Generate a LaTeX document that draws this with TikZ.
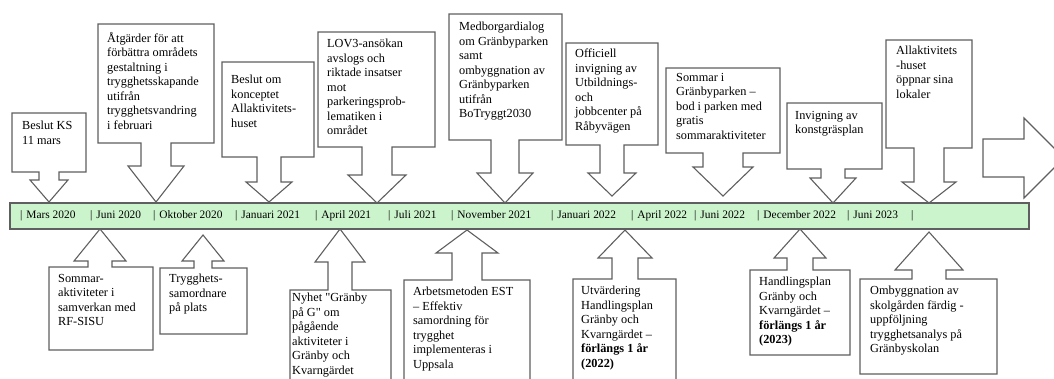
\documentclass[tikz,border=0pt]{standalone}
\usepackage{fontspec}
\newfontfamily\tlfont{Liberation Serif}
\definecolor{linegray}{RGB}{95,95,95}
\definecolor{barfill}{RGB}{204,244,204}

\begin{document}
\begin{tikzpicture}[x=1pt,y=-1pt,
        callout/.style={draw=linegray,line width=1.1pt,fill=white},
        calltext/.style={anchor=north west,inner sep=0pt,align=left,font=\tlfont\fontsize{12.3}{14.5}\selectfont,execute at begin node=\strut},
        monthtext/.style={anchor=west,inner sep=0pt,font=\tlfont\fontsize{11.4}{13}\selectfont}]
    \path[use as bounding box,clip] (0,0) rectangle (1054,378);
    \draw[draw=linegray,line width=1.1pt,fill=barfill] (10,203) rectangle (1029,229);
    \foreach \x/\m [count=\i] in {20/Mars 2020,90/Juni 2020,153/Oktober 2020,235/Januari 2021,315/April 2021,388/Juli 2021,451/November 2021,551/Januari 2022,631/April 2022,694/Juni 2022,757/December 2022,847/Juni 2023}{
        \node[monthtext] (month\i) at (\x,216) {|\hspace{4pt}\m};
    }
    \node[monthtext] (monthend) at (911,216) {|};
    \foreach \xa/\xb/\yf/\yn/\t/\s/\w/\wy/\ty in {
            12/86/113/172/49/10/19/180/202, 98/214/24/143/156/15/28/166/202,
            222/314/62/157/269/12/23/182/202, 318/435/32/147/377/15/29/175/203,
            449/562/14/140/505/14/28/173/203, 566/658/43/145/612/12/24/173/196,
            666/780/68/153/723/20/30/167/196, 787/882/103/169/833/12/23/178/203,
            886/972/40/148/929/15/27/182/203,
            49/153/350/267/100/12/26/261/229, 160/247/334/268/203/9/21/261/235,
            290/391/400/290/340/12/25/262/229, 404/530/400/280/467/15/31/253/230,
            573/676/400/279/625/13/27/258/230, 750/850/355/270/800/13/26/258/229,
            860/997/374/279/929/17/34/270/232}{
        \draw[callout] (\xa,\yf) -- (\xb,\yf) -- (\xb,\yn) -- (\t+\s,\yn) -- (\t+\s,\wy) -- (\t+\w,\wy)
            -- (\t,\ty) -- (\t-\w,\wy) -- (\t-\s,\wy) -- (\t-\s,\yn) -- (\xa,\yn) -- cycle;
    }
    \draw[callout] (983,139) -- (1024,139) -- (1024,118) -- (1064,158) -- (1024,198) -- (1024,177) -- (983,177) -- cycle;

    \node[calltext] (beslutks) at (22,121) {Beslut KS\\11 mars};
    \node[calltext] (atgarder) at (107,32) {Åtgärder för att\\förbättra områdets\\gestaltning i\\trygghetsskapande\\utifrån\\trygghetsvandring\\i februari};
    \node[calltext] (konceptet) at (231,75) {Beslut om\\konceptet\\Allaktivitets-\\huset};
    \node[calltext] (lovtre) at (327,39) {LOV3-ansökan\\avslogs och\\riktade insatser\\mot\\parkeringsprob-\\lematiken i\\området};
    \node[calltext] (medborgar) at (459,22) {Medborgardialog\\om Gränbyparken\\samt\\ombyggnation av\\Gränbyparken\\utifrån\\BoTryggt2030};
    \node[calltext] (officiell) at (575,49) {Officiell\\invigning av\\Utbildnings-\\och\\jobbcenter på\\Råbyvägen};
    \node[calltext] (sommarpark) at (676,73) {Sommar i\\Gränbyparken –\\bod i parken med\\gratis\\sommaraktiviteter};
    \node[calltext] (konstgras) at (795,111) {Invigning av\\konstgräsplan};
    \node[calltext] (allakt) at (896,46) {Allaktivitets\\-huset\\öppnar sina\\lokaler};

    \node[calltext] (sommarakt) at (58,274) {Sommar-\\aktiviteter i\\samverkan med\\RF-SISU};
    \node[calltext] (samordnare) at (169,274) {Trygghets-\\samordnare\\på plats};
    \node[calltext] (nyhet) at (292,293) {Nyhet "Gränby\\på G" om\\pågående\\aktiviteter i\\Gränby och\\Kvarngärdet};
    \node[calltext] (est) at (413,287) {Arbetsmetoden EST\\– Effektiv\\samordning för\\trygghet\\implementeras i\\Uppsala};
    \node[calltext] (utvardering) at (581,286) {Utvärdering\\Handlingsplan\\Gränby och\\Kvarngärdet –\\\textbf{förlängs 1 år}\\\textbf{(2022)}};
    \node[calltext] (handlingsplan) at (759,277) {Handlingsplan\\Gränby och\\Kvarngärdet –\\\textbf{förlängs 1 år}\\\textbf{(2023)}};
    \node[calltext] (skolgarden) at (870,286) {Ombyggnation av\\skolgården färdig -\\uppföljning\\trygghetsanalys på\\Gränbyskolan};
\end{tikzpicture}
\end{document}
